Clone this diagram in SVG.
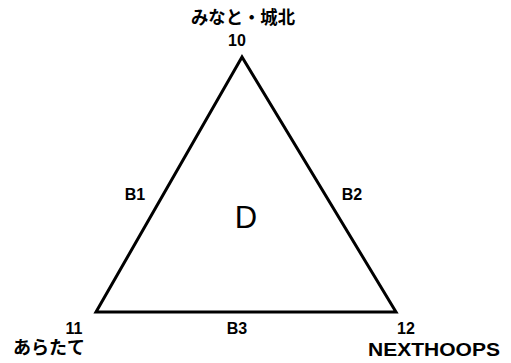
<svg xmlns="http://www.w3.org/2000/svg" width="511" height="363" viewBox="0 0 511 363">
<style>
.t{font-family:"Liberation Sans","Noto Sans CJK JP",sans-serif;font-weight:bold;fill:#000;text-anchor:middle}
.s{font-size:16px}
.j{font-size:18px}
.e{fill:none;stroke:#000;stroke-width:3;stroke-linejoin:miter}
</style>
<rect width="511" height="363" fill="#fff"/>
<g id="connectors">
<path class="e" d="M242,57 L96,312 L396,312 Z"/>
</g>
<g id="n10"><text class="t j" x="243" y="24" textLength="104" lengthAdjust="spacingAndGlyphs">みなと・城北</text><text class="t s" x="237" y="46">10</text></g>
<g id="n11"><text class="t s" x="74" y="334">11</text><text class="t j" x="49" y="354" textLength="72" lengthAdjust="spacingAndGlyphs">あらたて</text></g>
<g id="n12"><text class="t s" x="406" y="334">12</text><text class="t j" x="434" y="356" textLength="132" lengthAdjust="spacingAndGlyphs">NEXTHOOPS</text></g>
<g id="labels">
<text class="t s" x="135" y="200">B1</text>
<text class="t s" x="352" y="200">B2</text>
<text class="t s" x="237" y="334">B3</text>
<text x="246" y="228" font-family="Liberation Sans,sans-serif" font-size="31" text-anchor="middle">D</text>
</g>
</svg>
